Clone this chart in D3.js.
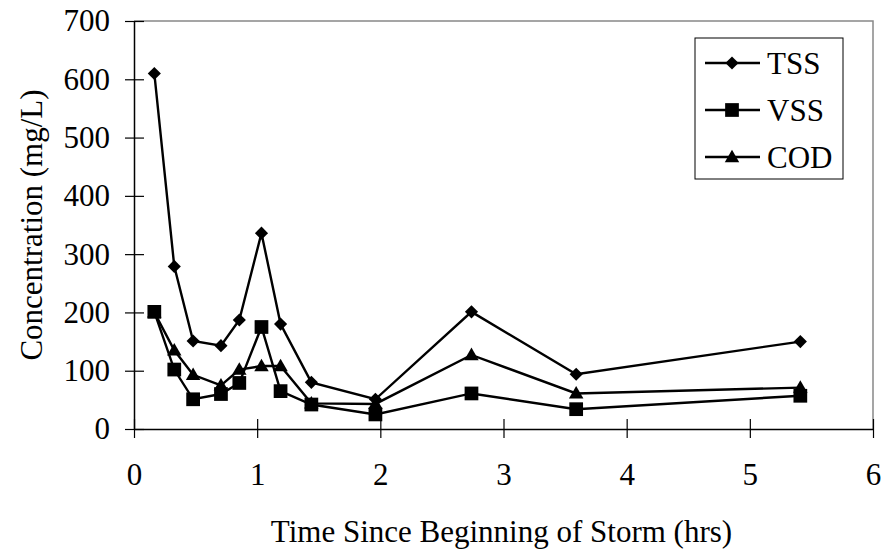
<!DOCTYPE html>
<html lang="en">
<head>
<meta charset="UTF-8">
<title>Storm concentrations</title>
<script src="https://d3js.org/d3.v7.min.js"></script>
<style>
    body { margin: 0; background: #fff; }
    svg { display: block; }
    svg text { font-family: "Liberation Serif", "Times New Roman", serif; fill: #000; }
    .axis text { font-size: 31px; }
    .axis path { stroke: #000; stroke-width: 1.5px; }
    .axis line { stroke: #000; stroke-width: 1.2px; }
    .series .ln { fill: none; stroke: #000; stroke-width: 2.4px; }
    .pt { fill: #000; stroke: none; }
</style>
</head>
<body>
<svg width="884" height="550"></svg>
<script>
// data
var timeHrs = [0.165, 0.327, 0.48, 0.706, 0.855, 1.035, 1.19, 1.44, 1.96, 2.74, 3.59, 5.41];
var tss = [610, 279, 151, 143, 187, 336, 180, 80, 51, 201, 94, 150];
var vss = [201, 102, 51, 60, 79, 175, 65, 42, 25, 61, 34, 57];
var cod = [200, 135, 93, 75, 102, 108, 108, 44, 43, 127, 61, 71];
var seriesNames = ["TSS", "VSS", "COD"];
var xTicks = [0, 1, 2, 3, 4, 5, 6];
var yTicks = [0, 100, 200, 300, 400, 500, 600, 700];

var margin = {top: 21, right: 11, bottom: 121, left: 134},
    width = 884 - margin.left - margin.right,
    height = 550 - margin.top - margin.bottom;

var svg = d3.select("svg").append("g")
    .attr("transform", "translate(" + margin.left + "," + margin.top + ")");

var x = d3.scaleLinear().domain([0, 6]).range([0, width]);
var y = d3.scaleLinear().domain([0, 700]).range([height, 0]);

// frame on top and right
svg.append("path")
    .attr("d", "M0,0H" + width + "V" + height)
    .attr("fill", "none")
    .attr("stroke", "#888")
    .attr("stroke-width", 1.5);

var yAxis = svg.append("g").attr("class", "axis")
    .call(d3.axisLeft(y).tickValues(yTicks).tickFormat(d3.format("d"))
        .tickSize(9).tickPadding(15).tickSizeOuter(0));
yAxis.attr("font-family", null).attr("font-size", null);
yAxis.selectAll(".tick line").attr("x2", -9).attr("x1", 10);

var xAxis = svg.append("g").attr("class", "axis")
    .attr("transform", "translate(0," + height + ")")
    .call(d3.axisBottom(x).tickValues(xTicks).tickFormat(d3.format("d"))
        .tickSize(9).tickPadding(25).tickSizeOuter(0));
xAxis.attr("font-family", null).attr("font-size", null);
xAxis.selectAll(".tick line").attr("y1", -10).attr("y2", 9);

// axis titles
svg.append("text")
    .attr("x", width / 2 - 2)
    .attr("y", height + 113)
    .attr("text-anchor", "middle")
    .style("font-size", "31px")
    .text("Time Since Beginning of Storm (hrs)");

svg.append("text")
    .attr("transform", "rotate(-90)")
    .attr("x", -height / 2)
    .attr("y", -92)
    .attr("text-anchor", "middle")
    .style("font-size", "31px")
    .text("Concentration (mg/L)");

var symbols = {TSS: d3.symbolDiamond2, VSS: d3.symbolSquare2, COD: d3.symbolTriangle2};
var symSize = {TSS: 110, VSS: 240, COD: 150};
var values = {TSS: tss, VSS: vss, COD: cod};

var line = d3.line()
    .x(function(d) { return x(d[0]); })
    .y(function(d) { return y(d[1]); });

function marker(name) {
    return d3.symbol().type(symbols[name]).size(symSize[name])();
}

seriesNames.forEach(function(name) {
    var pts = timeHrs.map(function(t, i) { return [t, values[name][i]]; });
    var g = svg.append("g").attr("class", "series");
    g.append("path").attr("class", "ln").attr("d", line(pts));
    g.selectAll(".pt").data(pts).enter().append("path")
        .attr("class", "pt")
        .attr("transform", function(d) {
            var dy = name === "COD" ? 1 : 0;
            return "translate(" + x(d[0]) + "," + (y(d[1]) + dy) + ")";
        })
        .attr("d", marker(name));
});

// legend
var lg = d3.select("svg").append("g").attr("transform", "translate(695,38)");
lg.append("rect")
    .attr("width", 148).attr("height", 141)
    .attr("fill", "#fff").attr("stroke", "#000").attr("stroke-width", 1);
var item = lg.selectAll(".item").data(seriesNames).enter().append("g")
    .attr("transform", function(d, i) { return "translate(0," + (25 + i * 47) + ")"; });
item.append("line")
    .attr("x1", 10).attr("x2", 65)
    .attr("stroke", "#000").attr("stroke-width", 2.4);
item.append("path")
    .attr("class", "pt")
    .attr("transform", function(d) { return "translate(37," + (d === "COD" ? 1 : 0) + ")"; })
    .attr("d", function(d) { return marker(d); });
item.append("text")
    .attr("x", 72).attr("dy", "0.35em")
    .style("font-size", "31px")
    .text(function(d) { return d; });
</script>
</body>
</html>
